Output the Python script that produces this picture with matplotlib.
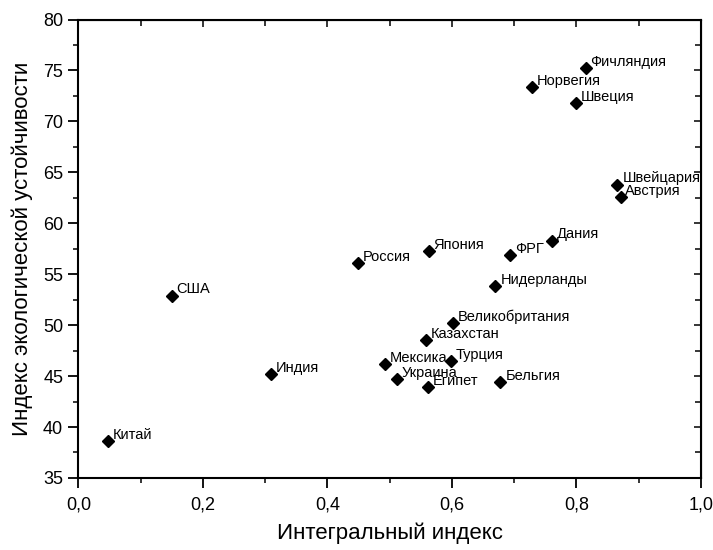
import matplotlib
matplotlib.use("Agg")
import matplotlib.pyplot as plt
from matplotlib.ticker import MultipleLocator, FuncFormatter

countries = ["Китай", "США", "Индия", "Мексика", "Украина", "Египет", "Казахстан",
             "Великобритания", "Турция", "Бельгия", "Россия", "Япония", "ФРГ",
             "Дания", "Нидерланды", "Швейцария", "Австрия", "Фичляндия",
             "Норвегия", "Швеция"]
integral_index = [0.048, 0.150, 0.309, 0.493, 0.512, 0.562, 0.558,
                  0.602, 0.598, 0.678, 0.449, 0.563, 0.693,
                  0.761, 0.670, 0.866, 0.871, 0.815,
                  0.728, 0.799]
eco_index = [38.6, 52.9, 45.2, 46.2, 44.7, 43.9, 48.5,
             50.2, 46.5, 44.4, 56.1, 57.3, 56.9,
             58.3, 53.8, 63.8, 62.6, 75.2,
             73.4, 71.8]

x_ticks = [0.0, 0.2, 0.4, 0.6, 0.8, 1.0]
y_ticks = [35, 40, 45, 50, 55, 60, 65, 70, 75, 80]

plt.rcParams['font.family'] = ['Liberation Sans', 'DejaVu Sans']

fig = plt.figure(figsize=(7.13, 5.5), dpi=100)
ax = fig.add_axes([0.110, 0.131, 0.873, 0.8335])

ax.plot(integral_index, eco_index, linestyle='none', marker='D',
        markersize=6.5, color='black')
for name, xv, yv in zip(countries, integral_index, eco_index):
    ax.annotate(name, (xv, yv), xytext=(3.5, 4.5), textcoords='offset points',
                ha='left', va='center', fontsize=10.5, color='black')

ax.set_xlim(0, 1)
ax.set_ylim(35, 80)
ax.set_xticks(x_ticks)
ax.set_yticks(y_ticks)
ax.xaxis.set_minor_locator(MultipleLocator(0.1))
ax.yaxis.set_minor_locator(MultipleLocator(2.5))
ax.xaxis.set_major_formatter(FuncFormatter(lambda v, p: f"{v:.1f}".replace('.', ',')))
ax.tick_params(axis='both', which='major', direction='out', length=7, width=1.3,
               labelsize=13, pad=4)
ax.tick_params(axis='x', which='major', pad=6)
ax.tick_params(axis='both', which='minor', direction='out', length=3.5, width=1.1)
for s in ax.spines.values():
    s.set_linewidth(1.5)

top = ax.secondary_xaxis('top')
top.set_xticks(x_ticks)
top.xaxis.set_minor_locator(MultipleLocator(0.1))
top.tick_params(which='both', direction='in', labeltop=False, width=1.1)
top.tick_params(which='major', length=5)
top.tick_params(which='minor', length=4)
right = ax.secondary_yaxis('right')
right.set_yticks(y_ticks)
right.yaxis.set_minor_locator(MultipleLocator(2.5))
right.tick_params(which='both', direction='in', labelright=False, width=1.1)
right.tick_params(which='major', length=5)
right.tick_params(which='minor', length=4)

ax.set_xlabel("Интегральный индекс", fontsize=16, labelpad=7)
ax.set_ylabel("Индекс экологической устойчивости", fontsize=16, labelpad=7)

fig.savefig("out.png", dpi=100)
